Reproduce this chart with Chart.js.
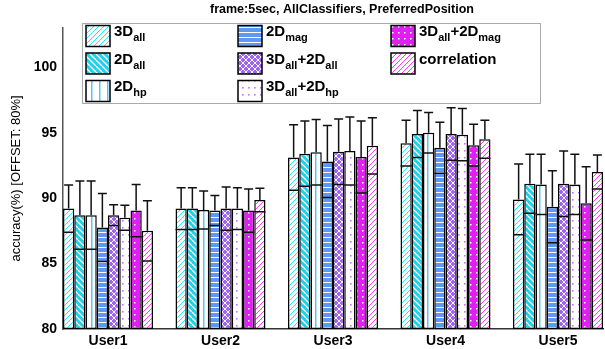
<!DOCTYPE html>
<html>
<head>
<meta charset="utf-8">
<script src="https://cdn.jsdelivr.net/npm/chart.js@4.4.1/dist/chart.umd.min.js"></script>
<style>
	body { margin: 0; background: #fff; }
	canvas { display: block; }
</style>
</head>
<body>
<canvas id="chart" width="605" height="349"></canvas>
<script>
(function() {
	var users = ['User1', 'User2', 'User3', 'User4', 'User5'];
	var yTicks = [80, 85, 90, 95, 100];
	var chartTitle = 'frame:5sec, AllClassifiers, PreferredPosition';

	// mean accuracy per user, one list per feature set
	var acc3Dall = [89.2, 89.2, 93.1, 94.2, 89.9];
	var acc2Dall = [88.7, 89.2, 93.4, 94.9, 91.1];
	var acc2Dhp = [88.7, 89.1, 93.5, 95.0, 91.05];
	var acc2Dmag = [87.75, 89.05, 92.8, 93.85, 89.35];
	var acc3D2Dall = [88.7, 89.2, 93.55, 94.9, 91.1];
	var acc3D2Dhp = [88.5, 89.2, 93.6, 94.85, 91.05];
	var acc3D2Dmag = [89.05, 89.05, 93.15, 94.05, 89.6];
	var accCorr = [87.5, 89.85, 94.0, 94.5, 92.0];

	// error bar half-lengths
	var err3Dall = [1.8, 1.6, 2.5, 1.75, 2.7];
	var err2Dall = [2.6, 1.6, 2.5, 1.8, 2.25];
	var err2Dhp = [2.6, 1.45, 2.5, 1.55, 2.3];
	var err2Dmag = [2.6, 1.15, 2.75, 1.95, 2.75];
	var err3D2Dall = [0.8, 1.65, 2.5, 2.0, 2.5];
	var err3D2Dhp = [0.95, 1.6, 2.6, 2.0, 2.3];
	var err3D2Dmag = [2.0, 1.65, 2.75, 1.6, 2.8];
	var errCorr = [2.3, 0.9, 2.15, 1.45, 1.3];

	var FONT = "'Liberation Sans', Arial, Helvetica, sans-serif";

	function makePattern(w, h, bg, draw) {
		var c = document.createElement('canvas');
		c.width = w;
		c.height = h;
		var g = c.getContext('2d');
		g.fillStyle = bg;
		g.fillRect(0, 0, w, h);
		draw(g, w, h);
		return g.createPattern(c, 'repeat');
	}

	function hatch(g, s, color, lw, dir) {
		g.strokeStyle = color;
		g.lineWidth = lw;
		g.beginPath();
		for (var k = -1; k <= 1; k++) {
			if (dir == '/') {
				g.moveTo(k * s, s);
				g.lineTo(k * s + s, 0);
			} else {
				g.moveTo(k * s, 0);
				g.lineTo(k * s + s, s);
			}
		}
		g.stroke();
	}

	var pat3Dall = makePattern(5, 5, '#ffffff', function(g, w) { hatch(g, w, '#2ee6f2', 1, '/'); });
	var pat2Dall = makePattern(6, 6, '#1fd0ea', function(g, w) { hatch(g, w, '#ffffff', 1.3, '\\'); });
	var pat2Dhp = makePattern(8, 4, '#ffffff', function(g) {
		g.fillStyle = '#5cc4f2';
		g.fillRect(3, 0, 1.5, 4);
	});
	var pat2Dmag = makePattern(4, 5, '#5f98f4', function(g) {
		g.fillStyle = '#ffffff';
		g.fillRect(0, 2, 4, 1);
	});
	var pat3D2Dall = makePattern(6, 6, '#a262f2', function(g, w) {
		hatch(g, w, '#ffffff', 1, '/');
		hatch(g, w, '#ffffff', 1, '\\');
	});
	var pat3D2Dhp = makePattern(6, 7, '#ffffff', function(g) {
		g.fillStyle = '#c575f2';
		g.fillRect(2, 3, 1.6, 1.6);
	});
	var pat3D2Dmag = makePattern(6, 6, '#e01ff2', function(g) {
		g.fillStyle = '#ffffff';
		g.fillRect(2, 2, 1.5, 1.5);
	});
	var patCorr = makePattern(5, 5, '#ffffff', function(g, w) { hatch(g, w, '#ff3cec', 1, '/'); });

	var series = [
		{ label: '3D_all', values: acc3Dall, errors: err3Dall, fill: pat3Dall },
		{ label: '2D_all', values: acc2Dall, errors: err2Dall, fill: pat2Dall },
		{ label: '2D_hp', values: acc2Dhp, errors: err2Dhp, fill: pat2Dhp },
		{ label: '2D_mag', values: acc2Dmag, errors: err2Dmag, fill: pat2Dmag },
		{ label: '3D_all+2D_all', values: acc3D2Dall, errors: err3D2Dall, fill: pat3D2Dall },
		{ label: '3D_all+2D_hp', values: acc3D2Dhp, errors: err3D2Dhp, fill: pat3D2Dhp },
		{ label: '3D_all+2D_mag', values: acc3D2Dmag, errors: err3D2Dmag, fill: pat3D2Dmag },
		{ label: 'correlation', values: accCorr, errors: errCorr, fill: patCorr }
	];

	var datasets = series.map(function(s) {
		return {
			label: s.label,
			data: s.values.map(function(v, i) { return { x: i + 1, y: v }; }),
			errors: s.errors,
			backgroundColor: s.fill,
			borderColor: '#000',
			borderWidth: 1.5,
			borderSkipped: false,
			base: 80,
			categoryPercentage: 0.8,
			barPercentage: 1.0
		};
	});

	var errorBarPlugin = {
		id: 'errorBars',
		afterDatasetsDraw: function(chart) {
			var ctx = chart.ctx;
			var yScale = chart.scales.y;
			ctx.save();
			ctx.beginPath();
			ctx.rect(chart.chartArea.left, chart.chartArea.top, chart.chartArea.width, chart.chartArea.height);
			ctx.clip();
			ctx.strokeStyle = '#111';
			ctx.lineWidth = 1.5;
			chart.data.datasets.forEach(function(ds, di) {
				var meta = chart.getDatasetMeta(di);
				meta.data.forEach(function(bar, i) {
					var v = ds.data[i].y;
					var e = ds.errors[i];
					var yTop = yScale.getPixelForValue(v + e);
					var yLow = yScale.getPixelForValue(v - e);
					var half = bar.width / 2;
					ctx.beginPath();
					ctx.moveTo(bar.x, bar.y);
					ctx.lineTo(bar.x, yTop);
					ctx.moveTo(bar.x - 4.5, yTop);
					ctx.lineTo(bar.x + 4.5, yTop);
					ctx.moveTo(bar.x - half, yLow);
					ctx.lineTo(bar.x + half, yLow);
					ctx.stroke();
				});
			});
			ctx.restore();
		}
	};

	function drawRichLabel(ctx, text, x, y) {
		var parts = text.split(/_([a-z]+)/);
		for (var i = 0; i < parts.length; i++) {
			if (!parts[i])
				continue;
			var sub = (i % 2 == 1);
			ctx.font = 'bold ' + (sub ? 11 : 15) + 'px ' + FONT;
			ctx.fillText(parts[i], x, sub ? y + 5 : y);
			x += ctx.measureText(parts[i]).width;
		}
	}

	// title centred on the plot area, as the original figure does
	var titlePlugin = {
		id: 'axesTitle',
		afterDraw: function(chart) {
			var ctx = chart.ctx;
			var area = chart.chartArea;
			ctx.save();
			ctx.fillStyle = '#000';
			ctx.font = 'bold 12.5px ' + FONT;
			ctx.textAlign = 'center';
			ctx.textBaseline = 'middle';
			ctx.fillText(chartTitle, (area.left + area.right) / 2 + 9, area.top - 18);
			ctx.restore();
		}
	};

	var legendPlugin = {
		id: 'patternLegend',
		afterDraw: function(chart) {
			var ctx = chart.ctx;
			var left = chart.chartArea.left + 19;
			var top = chart.chartArea.top - 5;
			var colX = [0, 152, 305];
			ctx.save();
			ctx.fillStyle = '#fff';
			ctx.fillRect(left, top, 458, 80);
			ctx.strokeStyle = '#aaa';
			ctx.lineWidth = 1;
			ctx.strokeRect(left + 0.5, top + 0.5, 458, 80);
			chart.data.datasets.forEach(function(ds, i) {
				var col = Math.floor(i / 3);
				var row = i % 3;
				var sx = left + 4 + colX[col];
				var sy = top + 2.5 + row * 27.5;
				ctx.fillStyle = ds.backgroundColor;
				ctx.fillRect(sx, sy, 24, 21);
				ctx.strokeStyle = '#000';
				ctx.lineWidth = 1.5;
				ctx.strokeRect(sx, sy, 24, 21);
				ctx.fillStyle = '#000';
				ctx.textBaseline = 'alphabetic';
				ctx.textAlign = 'left';
				drawRichLabel(ctx, ds.label, sx + 28, sy + 10.5);
			});
			ctx.restore();
		}
	};

	new Chart(document.getElementById('chart'), {
		type: 'bar',
		data: { datasets: datasets },
		plugins: [errorBarPlugin, titlePlugin, legendPlugin],
		options: {
			responsive: false,
			animation: false,
			layout: { padding: { left: 0, right: 2, top: 28, bottom: 0 } },
			plugins: {
				legend: { display: false },
				tooltip: { enabled: false },
				title: { display: false }
			},
			scales: {
				x: {
					type: 'linear',
					offset: false,
					min: 0.6,
					max: 5.4,
					grid: { display: false, drawTicks: false },
					border: { display: true, color: '#333', width: 1.5 },
					afterBuildTicks: function(axis) {
						axis.ticks = users.map(function(u, i) { return { value: i + 1 }; });
					},
					afterFit: function(axis) { axis.height = 20; },
					ticks: {
						padding: 4,
						color: '#000',
						font: { family: FONT, size: 14, weight: 'bold' },
						maxRotation: 0,
						callback: function(v) { return users[v - 1]; }
					}
				},
				y: {
					min: 80,
					max: 103,
					grid: { display: false, drawTicks: false },
					border: { display: true, color: '#555', width: 1.5 },
					afterBuildTicks: function(axis) {
						axis.ticks = yTicks.map(function(v) { return { value: v }; });
					},
					afterFit: function(axis) { axis.width = 63; },
					ticks: {
						padding: 6,
						color: '#000',
						font: { family: FONT, size: 14, weight: 'bold' }
					},
					title: {
						display: true,
						text: 'accuracy(%) [OFFSET: 80%]',
						color: '#000',
						font: { family: FONT, size: 13 },
						padding: { top: 9, bottom: 0 }
					}
				}
			}
		}
	});
}());
</script>
</body>
</html>
